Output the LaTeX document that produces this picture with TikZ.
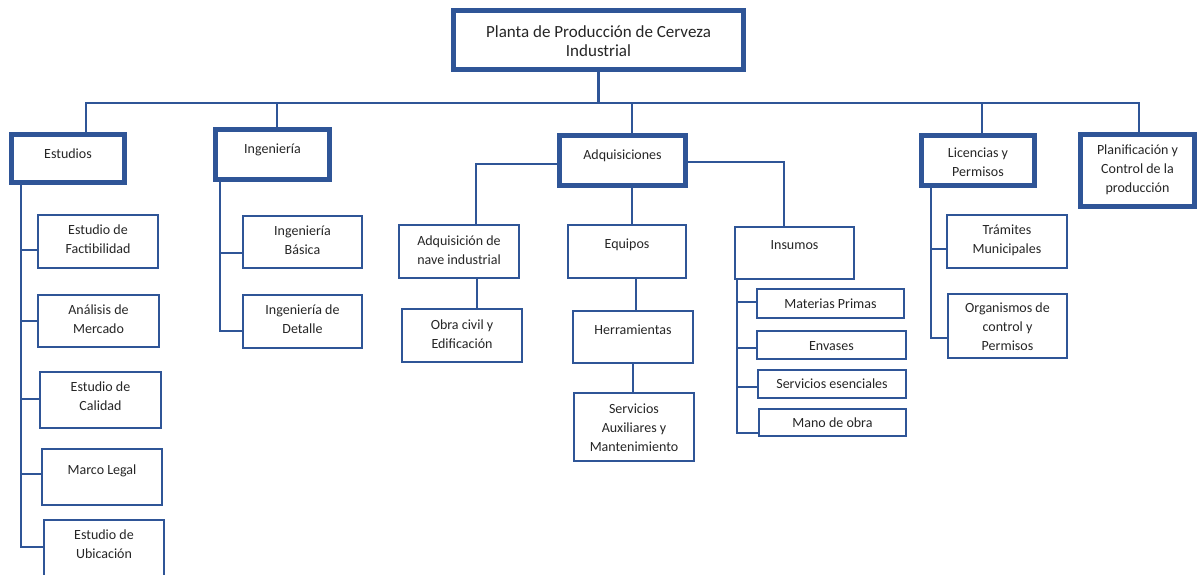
\documentclass[tikz,border=0pt]{standalone}
\usepackage{fontspec}
\setmainfont{Carlito}
\usetikzlibrary{calc}
\definecolor{obl}{RGB}{47,85,151}
\definecolor{otx}{RGB}{38,38,38}
\tikzset{
  thinbox/.style={draw=obl, line width=2.2pt, fill=white, inner sep=0pt},
  thickbox/.style={draw=obl, line width=4.8pt, fill=white, inner sep=0pt},
  txt/.style={text=otx, align=center, inner sep=0pt, font=\fontsize{14}{19}\selectfont},
  conn/.style={draw=obl, line width=2.5pt}
}
\newcommand\tbox[7]{%
  \node[thinbox, minimum width={#4-#2-2.2}, minimum height={#5-#3-2.2}] (#1) at ({(#2+#4)/2},{(#3+#5)/2}) {};
  \node[txt] (#1-t) at ({(#2+#4)/2},#6) {#7};
}
\newcommand\Tbox[7]{%
  \node[thickbox, minimum width={#4-#2-4.8}, minimum height={#5-#3-4.8}] (#1) at ({(#2+#4)/2},{(#3+#5)/2}) {};
  \node[txt] (#1-t) at ({(#2+#4)/2},#6) {#7};
}
\begin{document}
\begin{tikzpicture}[x=1pt,y=-1pt]
\useasboundingbox (0,0) rectangle (1203,574);
\clip (0,0) rectangle (1203,574);
\fill[white] (0,0) rectangle (1203,574);

% ---- connectors (drawn first, boxes on top) ----
\coordinate (busL) at (86,103);
\coordinate (busR) at (1139,103);
\coordinate (jPla) at (598.5,103);
\coordinate (jIng) at (277,103);
\coordinate (jAdq) at (632,103);
\coordinate (jLic) at (982,103);

% ---- boxes ----
\Tbox{pla}{451}{8}{746}{72}{41}{\fontsize{17}{22}\selectfont Planta de Producción de Cerveza\\\fontsize{17}{22}\selectfont Industrial}
\Tbox{est}{9}{132}{127}{185}{153.5}{Estudios}
\Tbox{ing}{213}{127}{332}{182}{150}{Ingeniería}
\Tbox{adq}{557}{133}{688}{188}{155.5}{Adquisiciones}
\Tbox{lic}{919}{133}{1037}{188}{162}{Licencias y\\Permisos}
\Tbox{pcp}{1078}{132}{1197}{209}{169.5}{Planificación y\\Control de la\\producción}

\tbox{fac}{37}{214}{159}{269}{239}{Estudio de\\Factibilidad}
\tbox{mer}{37}{294}{160}{348}{319}{Análisis de\\Mercado}
\tbox{cal}{39}{371}{162}{429}{396.5}{Estudio de\\Calidad}
\tbox{mar}{41}{448}{163}{506}{471}{Marco Legal}
\tbox{ubi}{43}{519}{165}{600}{544}{Estudio de\\Ubicación}

\tbox{ibs}{242}{215}{363}{269}{240.5}{Ingeniería\\Básica}
\tbox{idt}{242}{294}{363}{349}{319}{Ingeniería de\\Detalle}

\tbox{adn}{398}{224}{520}{279}{250}{Adquisición de\\nave industrial}
\tbox{obr}{401}{308}{523}{363}{334}{Obra civil y\\Edificación}
\tbox{equ}{567}{224}{687}{279}{245}{Equipos}
\tbox{her}{572}{310}{694}{364}{330}{Herramientas}
\tbox{sax}{573}{392}{695}{462}{427.5}{Servicios\\Auxiliares y\\Mantenimiento}
\tbox{ins}{734}{226}{855}{280}{245}{Insumos}
\tbox{mat}{756}{288}{905}{319}{304}{Materias Primas}
\tbox{env}{756}{330}{907}{360}{346}{Envases}
\tbox{ses}{757}{369}{907}{399}{384}{Servicios esenciales}
\tbox{mob}{758}{408}{907}{437}{423}{Mano de obra}

\tbox{tra}{946}{214}{1068}{269}{240.5}{Trámites\\Municipales}
\tbox{org}{947}{293}{1068}{359}{327}{Organismos de\\control y\\Permisos}

% ---- connectors ----
\begin{scope}[on background layer/.style={}]
\draw[conn] (busL |- est.north) -- (busL) -- (busR) -- (busR |- pcp.north);
\draw[conn] (pla.south) -- (jPla);
\draw[conn] (jIng) -- (jIng |- ing.north);
\draw[conn] (jAdq) -- (jAdq |- adq.north);
\draw[conn] (jLic) -- (jLic |- lic.north);

% Adquisiciones branches
\coordinate (jAdn) at (476,164);
\coordinate (jIns) at (784,162);
\coordinate (jEqu) at (632,206);
\draw[conn] (jAdn -| adq.west) -- (jAdn) -- (jAdn |- adn.north);
\draw[conn] (jIns -| adq.east) -- (jIns) -- (jIns |- ins.north);
\draw[conn] (jEqu |- adq.south) -- (jEqu |- equ.north);
\coordinate (jObr) at (477,294);
\draw[conn] (jObr |- adn.south) -- (jObr |- obr.north);
\coordinate (jHer) at (636,294);
\draw[conn] (jHer |- equ.south) -- (jHer |- her.north);
\coordinate (jSax) at (633,378);
\draw[conn] (jSax |- her.south) -- (jSax |- sax.north);

% Estudios trunk
\coordinate (tE) at (21,547);
\draw[conn] (tE |- est.south) -- (tE) -- (tE -| ubi.west);
\coordinate (tE1) at (21,250);
\coordinate (tE2) at (21,321);
\coordinate (tE3) at (21,399);
\coordinate (tE4) at (21,474);
\draw[conn] (tE1) -- (tE1 -| fac.west);
\draw[conn] (tE2) -- (tE2 -| mer.west);
\draw[conn] (tE3) -- (tE3 -| cal.west);
\draw[conn] (tE4) -- (tE4 -| mar.west);

% Ingenieria trunk
\coordinate (tI) at (220,331);
\coordinate (tI1) at (220,253);
\draw[conn] (tI |- ing.south) -- (tI) -- (tI -| idt.west);
\draw[conn] (tI1) -- (tI1 -| ibs.west);

% Insumos trunk
\coordinate (tN) at (737,433);
\coordinate (tN1) at (737,302);
\coordinate (tN2) at (737,348);
\coordinate (tN3) at (737,387);
\draw[conn] (tN |- ins.south) -- (tN) -- (tN -| mob.west);
\draw[conn] (tN1) -- (tN1 -| mat.west);
\draw[conn] (tN2) -- (tN2 -| env.west);
\draw[conn] (tN3) -- (tN3 -| ses.west);

% Licencias trunk
\coordinate (tL) at (931,338);
\coordinate (tL1) at (931,249);
\draw[conn] (tL |- lic.south) -- (tL) -- (tL -| org.west);
\draw[conn] (tL1) -- (tL1 -| tra.west);
\end{scope}
\end{tikzpicture}
\end{document}
